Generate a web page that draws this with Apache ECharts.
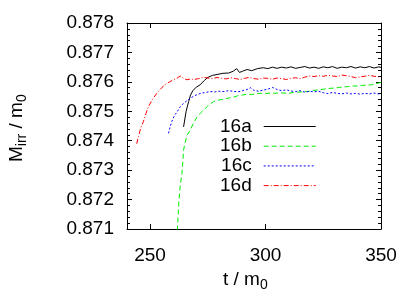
<!DOCTYPE html>
<html><head><meta charset="utf-8">
<script src="https://cdn.jsdelivr.net/npm/echarts@6/dist/echarts.min.js"></script>
<style>html,body{margin:0;padding:0;background:#fff}#c{width:415px;height:291px}</style>
</head><body><div id="c"></div>
<script>
var seriesNames = ['16a', '16b', '16c', '16d'];
var xTicks = [250, 300, 350];
var yTicks = [0.871, 0.872, 0.873, 0.874, 0.875, 0.876, 0.877, 0.878];

var data16a = [[264.5,0.87447],[265.6,0.87500],[266.7,0.87533],[267.5,0.87555],[268.5,0.87570],[270,0.87582],[271.7,0.87590],[273.5,0.87605],[275,0.87615],[277,0.87622],[279,0.87625],[281.5,0.87629],[284,0.87630],[286,0.87636],[287.5,0.87645],[288.7,0.87632],[290,0.87636],[292,0.87642],[294,0.87638],[296.5,0.87645],[299,0.87648],[301,0.87645],[303,0.87650],[305,0.87646],[307,0.87650],[309,0.87647],[311,0.87651],[313,0.87646],[315,0.87649],[317,0.87652],[319,0.87647],[321,0.87650],[323,0.87646],[325,0.87651],[327,0.87648],[329,0.87652],[331,0.87646],[333,0.87650],[335,0.87648],[337,0.87652],[339,0.87647],[341,0.87651],[343,0.87648],[345,0.87652],[347,0.87647],[349,0.87651],[350,0.87649]];

var data16b = [[261.8,0.87095],[262.5,0.87199],[263.1,0.87250],[263.8,0.87289],[264.2,0.87330],[264.5,0.87368],[265.2,0.87395],[266,0.87419],[267.4,0.87436],[268.8,0.87460],[270.3,0.87480],[271.8,0.87494],[273.2,0.87504],[275,0.87518],[277.5,0.87533],[279.5,0.87538],[281.9,0.87541],[284,0.87545],[286.2,0.87548],[288,0.87553],[290,0.87555],[292,0.87558],[294,0.87557],[296,0.87560],[298,0.87561],[300,0.87560],[302,0.87562],[304,0.87561],[306,0.87563],[308,0.87562],[310,0.87561],[312,0.87564],[314,0.87565],[316,0.87566],[318,0.87567],[320,0.87570],[322,0.87572],[324,0.87574],[326,0.87576],[328,0.87578],[330,0.87579],[332,0.87581],[334,0.87583],[336,0.87584],[338,0.87586],[340,0.87586],[342,0.87588],[344,0.87589],[346,0.87590],[348,0.87594],[350,0.87598]];

var data16c = [[258,0.87425],[258.7,0.87448],[259.4,0.87465],[260.5,0.87485],[261.7,0.87498],[263,0.87515],[264.5,0.87527],[266,0.87536],[267.4,0.87544],[269,0.87552],[270.5,0.87557],[272,0.87561],[274,0.87564],[276,0.87567],[278,0.87566],[280,0.87568],[282,0.87567],[284,0.87570],[286,0.87568],[288,0.87566],[290,0.87570],[292,0.87574],[293.5,0.87580],[295,0.87571],[297,0.87568],[299,0.87572],[301,0.87575],[303,0.87581],[305,0.87574],[307,0.87570],[309,0.87573],[311,0.87569],[313,0.87567],[315,0.87570],[317,0.87565],[319,0.87568],[321,0.87566],[323,0.87568],[325,0.87563],[327,0.87560],[329,0.87564],[331,0.87561],[333,0.87559],[335,0.87562],[337,0.87559],[339,0.87561],[341,0.87558],[343,0.87561],[345,0.87559],[347,0.87562],[349,0.87559],[350,0.87560]];

var data16d = [[244.2,0.87390],[245,0.87415],[246,0.87445],[247.1,0.87465],[248.2,0.87492],[249.3,0.87516],[250.5,0.87533],[251.7,0.87548],[252.9,0.87561],[254.5,0.87575],[256,0.87588],[257.3,0.87595],[258.7,0.87601],[260,0.87607],[261.6,0.87612],[263,0.87620],[264.5,0.87612],[266,0.87607],[267.5,0.87610],[269,0.87608],[271,0.87611],[273,0.87616],[275,0.87613],[277,0.87611],[279,0.87615],[281,0.87612],[283,0.87610],[285,0.87614],[287,0.87611],[289,0.87608],[291,0.87612],[293,0.87615],[295,0.87611],[297,0.87609],[299,0.87613],[301,0.87612],[303,0.87609],[305,0.87613],[307,0.87611],[309,0.87608],[311,0.87612],[313,0.87614],[315,0.87611],[317,0.87616],[319,0.87620],[321,0.87618],[323,0.87621],[325,0.87619],[327,0.87622],[329,0.87620],[331,0.87618],[333,0.87623],[335,0.87621],[337,0.87618],[339,0.87614],[341,0.87617],[343,0.87619],[345,0.87622],[347,0.87619],[349,0.87617],[350,0.87618]];

var FONT = 'Liberation Sans';
var chart = echarts.init(document.getElementById('c'), null, {renderer: 'canvas'});

function mkSeries(name, data, color, type) {
  return {
    name: name, type: 'line', data: data, symbol: 'none', smooth: false,
    lineStyle: {color: color, width: 1, type: type},
    itemStyle: {color: color},
    emphasis: {disabled: true}, animation: false, clip: true
  };
}

var axisLineStyle = {lineStyle: {color: '#000', width: 1}};

chart.setOption({
  animation: false,
  backgroundColor: '#fff',
  grid: {left: 127, right: 34, top: 23, bottom: 62, containLabel: false},
  xAxis: [{
    type: 'value', min: 240, max: 350, position: 'bottom',
    axisLine: axisLineStyle,
    axisTick: {inside: true, length: 5, lineStyle: {color: '#000'}, customValues: xTicks},
    axisLabel: {customValues: xTicks, fontFamily: FONT, fontSize: 19, color: '#000', margin: 17},
    splitLine: {show: false}
  }, {
    type: 'value', min: 240, max: 350, position: 'top',
    axisLine: axisLineStyle,
    axisTick: {inside: true, length: 5, lineStyle: {color: '#000'}, customValues: xTicks},
    axisLabel: {show: false},
    splitLine: {show: false}
  }],
  yAxis: [{
    type: 'value', min: 0.871, max: 0.878, interval: 0.001, position: 'left',
    axisLine: {show: true, lineStyle: {color: '#000', width: 1}},
    axisTick: {show: true, inside: true, length: 5, lineStyle: {color: '#000'}},
    minorTick: {show: true, splitNumber: 5, length: 3, lineStyle: {color: '#000'}},
    axisLabel: {fontFamily: FONT, fontSize: 19, color: '#000', margin: 13,
      formatter: function (v) { return v.toFixed(3); }},
    splitLine: {show: false}
  }, {
    type: 'value', min: 0.871, max: 0.878, interval: 0.001, position: 'right',
    axisLine: {show: true, lineStyle: {color: '#000', width: 1}},
    axisTick: {show: true, inside: true, length: 5, lineStyle: {color: '#000'}},
    minorTick: {show: true, splitNumber: 5, length: 3, lineStyle: {color: '#000'}},
    axisLabel: {show: false},
    splitLine: {show: false}
  }],
  legend: {
    show: true,
    data: seriesNames, orient: 'vertical', align: 'right',
    left: 215, top: 112, itemWidth: 52, itemHeight: 20, itemGap: 0.7,
    itemStyle: {opacity: 0},
    lineStyle: {width: 1},
    textStyle: {fontFamily: FONT, fontSize: 19, color: '#000', padding: [0, 7, 0, 0]},
    selectedMode: false
  },
  series: [
    mkSeries(seriesNames[0], data16a, '#000000', 'solid'),
    mkSeries(seriesNames[1], data16b, '#00ee00', [5, 3]),
    mkSeries(seriesNames[2], data16c, '#0000ff', [2, 2]),
    mkSeries(seriesNames[3], data16d, '#ff0000', [5, 2, 1, 2])
  ],
  graphic: [{
    type: 'text', left: 223, top: 270,
    style: {
      text: '{a|t / m}{s|0}',
      rich: {
        a: {fontFamily: FONT, fontSize: 19, fill: '#000', verticalAlign: 'top', lineHeight: 20},
        s: {fontFamily: FONT, fontSize: 14, fill: '#000', verticalAlign: 'top', lineHeight: 14, padding: [8, 0, 0, 0]}
      }
    }
  }, {
    type: 'text', x: 7, y: 162, rotation: Math.PI / 2,
    style: {
      text: '{a|M}{s|irr}{a| / m}{s|0}',
      rich: {
        a: {fontFamily: FONT, fontSize: 19, fill: '#000', verticalAlign: 'top', lineHeight: 20},
        s: {fontFamily: FONT, fontSize: 14, fill: '#000', verticalAlign: 'top', lineHeight: 14, padding: [8, 0, 0, 0]}
      }
    }
  }]
});
</script></body></html>
